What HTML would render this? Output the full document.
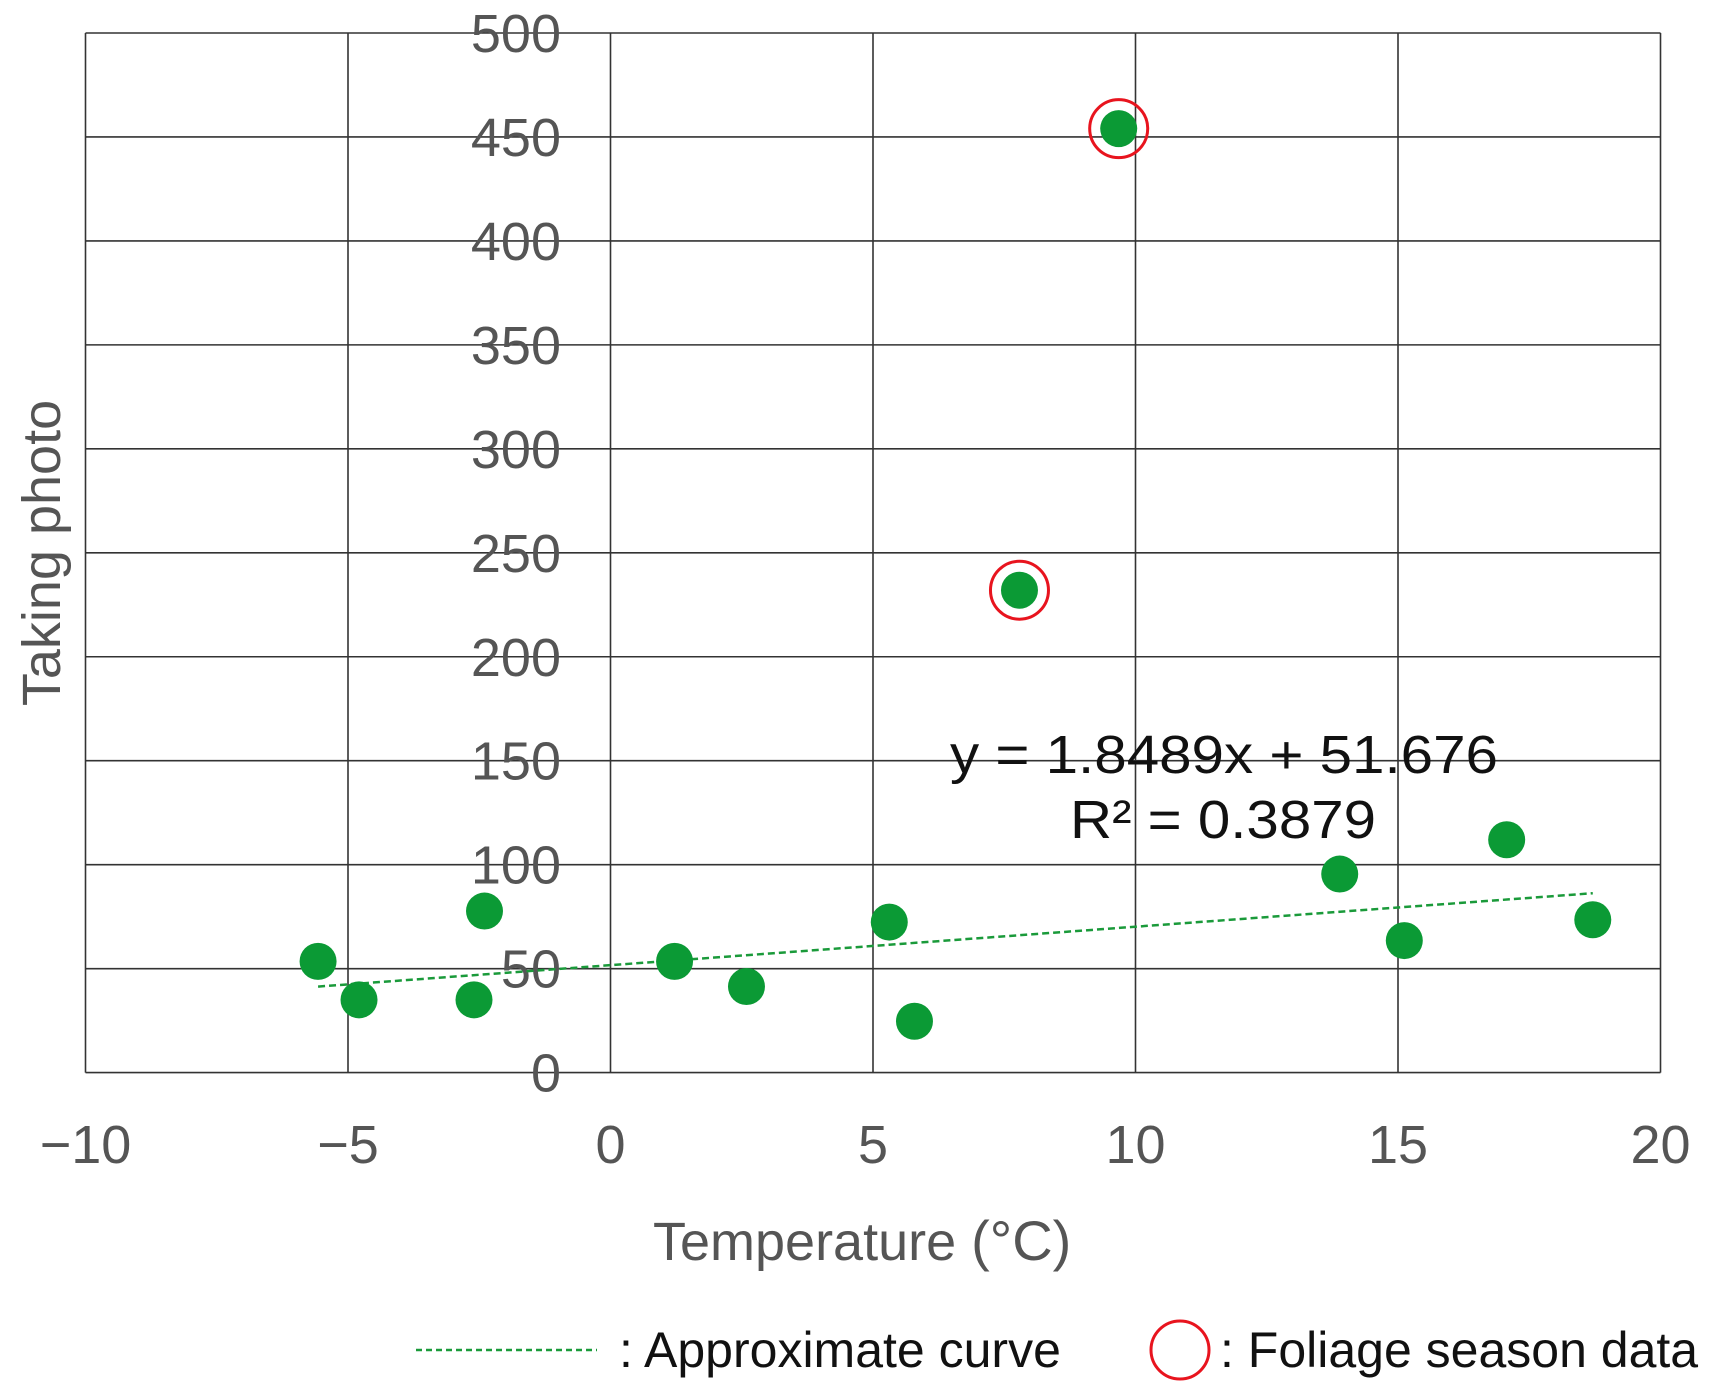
<!DOCTYPE html>
<html><head><meta charset="utf-8"><style>
html,body{margin:0;padding:0;background:#fff}
svg{display:block;font-family:"Liberation Sans",sans-serif}
</style></head><body>
<svg id="chart" width="1710" height="1395" viewBox="0 0 1710 1395" xmlns="http://www.w3.org/2000/svg">
<g id="grid"></g>
<g id="ylabels"></g>
<g id="xlabels"></g>
<g id="marks"></g>
<text x="653" y="1260" font-size="54" fill="#555">Temperature <tspan font-size="56">(°C)</tspan></text>
<text transform="translate(60,553) rotate(-90)" font-size="54" fill="#555" text-anchor="middle">Taking photo</text>
<text x="950" y="773" font-size="54" fill="#111" textLength="548" lengthAdjust="spacingAndGlyphs">y = 1.8489x + 51.676</text>
<text x="1070" y="838" font-size="54" fill="#111" textLength="306" lengthAdjust="spacingAndGlyphs">R² = 0.3879</text>
<g>
<line x1="416" y1="1350" x2="597" y2="1350" stroke="#1a9a3a" stroke-width="2.5" stroke-dasharray="6,4"/>
<text x="619" y="1367" font-size="50" fill="#111">: Approximate curve</text>
<circle cx="1180" cy="1350" r="29" fill="none" stroke="#e8141e" stroke-width="3"/>
<text x="1220" y="1367" font-size="50" fill="#111">: Foliage season data</text>
</g>
</svg>
<script>
const xTicks=[-10,-5,0,5,10,15,20];
const yTicks=[0,50,100,150,200,250,300,350,400,450,500];
const xs=[-5.57,-4.79,-2.6,-2.4,1.22,2.59,5.31,5.79,7.79,9.68,13.89,15.12,17.07,18.71];
const ys=[53.5,35,35,77.7,53.5,41.4,72.4,24.7,232,454,95.5,63.5,112,73.5];
const foliage=[false,false,false,false,false,false,false,false,true,true,false,false,false,false];
const slope=1.8489, intercept=51.676;
const NS="http://www.w3.org/2000/svg";
const L=85.5,R=1660.5,T=33,B=1072.6;
const sx=v=>L+(v+10)/30*(R-L);
const sy=v=>B-v/500*(B-T);
function mk(tag,attrs,parent){const e=document.createElementNS(NS,tag);for(const k in attrs)e.setAttribute(k,attrs[k]);parent.appendChild(e);return e;}
const grid=document.getElementById('grid'),yl=document.getElementById('ylabels'),xl=document.getElementById('xlabels'),marks=document.getElementById('marks');
xTicks.forEach(t=>{
 const l=mk('line',{x1:sx(t),x2:sx(t),y1:T,y2:B,stroke:'#333','stroke-width':1.6},grid);
 
 
 const tx=mk('text',{x:sx(t),y:1163,'font-size':54,fill:'#555','text-anchor':'middle'},xl);
 tx.textContent=t<0?'\u2212'+(-t):String(t);
 
 
});
yTicks.forEach(t=>{
 const l=mk('line',{x1:L,x2:R,y1:sy(t),y2:sy(t),stroke:'#333','stroke-width':1.6},grid);
 
 
 const tx=mk('text',{x:561,y:sy(t)+19,'font-size':54,fill:'#555','text-anchor':'end'},yl);
 tx.textContent=String(t);
 
 
});
const x0=Math.min(...xs),x1=Math.max(...xs);
const tl=mk('line',{x1:sx(x0),y1:sy(slope*x0+intercept),x2:sx(x1),y2:sy(slope*x1+intercept),stroke:'#1a9a3a','stroke-width':2.5,'stroke-dasharray':'7,4'},marks);


xs.forEach((x,i)=>{
 const c=mk('circle',{cx:sx(x),cy:sy(ys[i]),r:18.5,fill:'#0b9a35'},marks);
 
 
 if(foliage[i]){
  const r=mk('circle',{cx:sx(x),cy:sy(ys[i]),r:29,fill:'none',stroke:'#e8141e','stroke-width':3},marks);
  
  
 }
});
</script>
</body></html>
